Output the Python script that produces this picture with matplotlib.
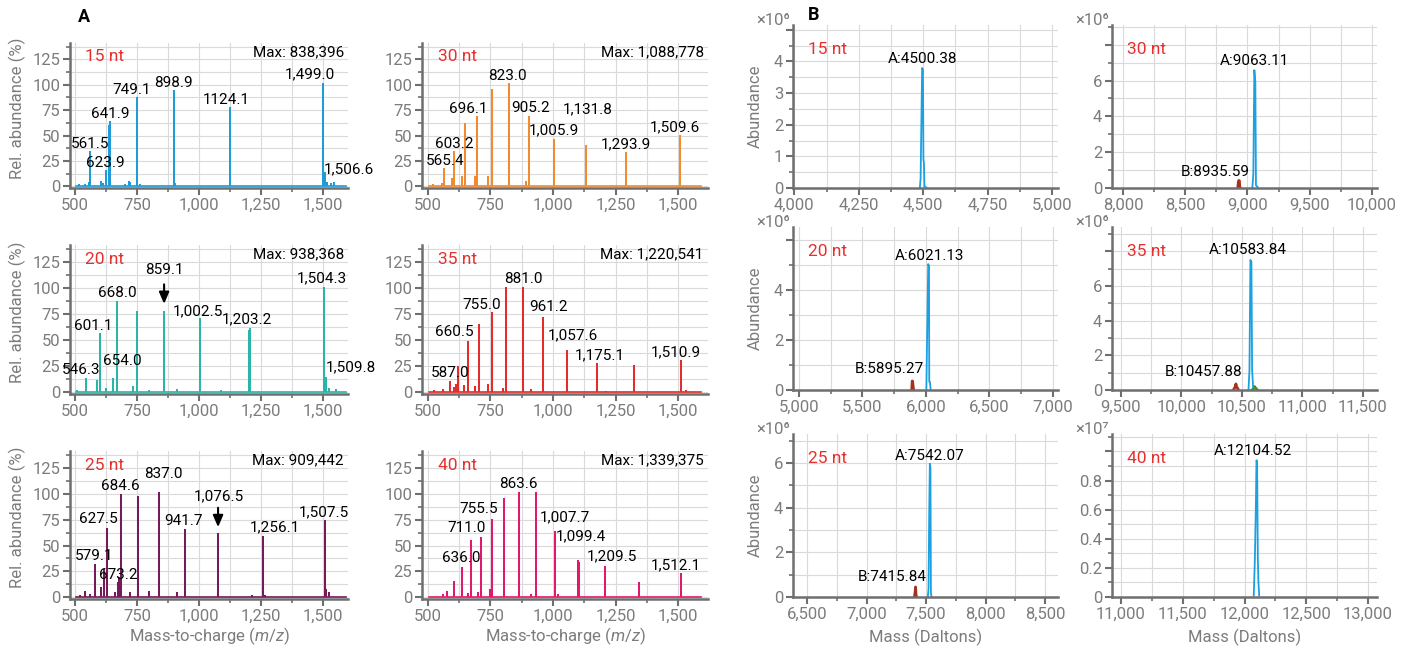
import matplotlib.pyplot as plt
from matplotlib.ticker import MultipleLocator, FuncFormatter

plt.rcParams['font.family'] = ['Roboto', 'DejaVu Sans']
plt.rcParams['mathtext.fontset'] = 'custom'
plt.rcParams['mathtext.rm'] = 'Roboto'
plt.rcParams['mathtext.it'] = 'Roboto:italic'

# ---- panel A: m/z spectra (relative abundance, %) ----
mz_15 = [518, 540, 555, 561.5, 605, 612, 623.9, 638, 641.9, 700, 716, 722, 749.1, 760,
         898.9, 905, 1124.1, 1499.0, 1506.6, 1515, 1530, 1545]
rel_15 = [2, 2, 4, 35, 5, 3, 16, 60, 64, 2, 5, 4, 88, 2, 95, 3, 78, 102, 14, 4, 3, 4]
labels_15 = [("561.5", 560, 38), ("623.9", 621, 19), ("641.9", 641, 67), ("749.1", 728, 91),
             ("898.9", 896, 98), ("1124.1", 1108, 81), ("1,499.0", 1446, 106)]
side_labels_15 = [("1,506.6", 1503, 13)]

mz_30 = [520, 555, 565.4, 597, 603.2, 636, 646.4, 650, 688, 696.1, 740, 754.3, 823.0, 890,
         905.2, 1005.9, 1131.8, 1293.9, 1509.6]
rel_30 = [2, 3, 18, 8, 35, 10, 61, 62, 10, 69, 10, 96, 102, 5, 69, 47, 41, 34, 51]
labels_30 = [("565.4", 567, 21), ("603.2", 604, 38), ("696.1", 660, 72), ("823.0", 817, 105),
             ("905.2", 911, 73), ("1,005.9", 1004, 51), ("1,131.8", 1137, 72),
             ("1,293.9", 1293, 38), ("1,509.6", 1487, 54)]

mz_20 = [510, 546.3, 590, 601.1, 625, 654.0, 668.0, 735, 751.6, 800, 859.1, 910, 1002.5,
         1090, 1200.5, 1203.2, 1504.3, 1509.8, 1525, 1550]
rel_20 = [2, 14, 12, 57, 4, 14, 87, 6, 78, 2, 78, 3, 71, 2, 60, 62, 101, 15, 4, 3]
labels_20 = [("546.3", 523, 17.6), ("601.1", 574, 60), ("654.0", 690, 26), ("668.0", 670, 91),
             ("859.1", 860, 113), ("1,002.5", 995, 74), ("1,203.2", 1192, 66),
             ("1,504.3", 1494, 105)]
side_labels_20 = [("1,509.8", 1511, 20)]
arrow_20 = (859.1, 106, 82)

mz_35 = [525, 560, 587.0, 605, 612, 621.6, 645, 660.5, 690, 704.6, 740, 755.0, 800, 813.1,
         881.0, 912, 961.2, 1057.6, 1175.1, 1212, 1322.0, 1510.9, 1530]
rel_35 = [2, 3, 11, 5, 8, 25, 7, 49, 6, 65, 8, 77, 4, 101, 101, 3, 72, 41, 28, 1.5, 26, 31, 2]
labels_35 = [("587.0", 589, 15), ("660.5", 607, 53.5), ("755.0", 716, 80), ("881.0", 880, 105),
             ("961.2", 983, 78), ("1,057.6", 1080, 51), ("1,175.1", 1189, 32),
             ("1,510.9", 1493, 35)]

mz_25 = [520, 540, 560, 579.1, 605, 617, 627.5, 660, 673.2, 678, 684.6, 720, 753.2, 800,
         837.0, 910, 941.7, 1076.5, 1215, 1256.1, 1265, 1507.5, 1512, 1522]
rel_25 = [2, 6, 3, 32.5, 10, 27, 67, 5, 14.5, 20, 100, 5, 98, 6, 102, 5, 66, 62, 2, 59.5, 2,
          75, 8, 5]
labels_25 = [("579.1", 578, 36), ("627.5", 596, 72), ("673.2", 674, 18), ("684.6", 683, 103),
             ("837.0", 855, 115), ("941.7", 939, 70), ("1,076.5", 1080, 94),
             ("1,256.1", 1306, 64), ("1,507.5", 1504, 78)]
arrow_25 = (1076.5, 89, 65)

mz_40 = [560, 575.4, 604.2, 636.0, 660, 671.5, 700, 711.0, 750, 755.5, 806.0, 863.6, 910,
         930.1, 1007.7, 1020, 1099.4, 1103, 1209.5, 1343.9, 1512.1]
rel_40 = [3, 6.5, 15.5, 29, 4, 55, 5, 58, 8, 76, 96, 101.5, 3, 101.5, 64, 3, 36, 34, 30.5, 15,
          23.5]
labels_40 = [("636.0", 633, 34), ("711.0", 656, 63), ("755.5", 703, 81), ("863.6", 863, 105.5),
             ("1,007.7", 1047, 73), ("1,099.4", 1113, 55), ("1,209.5", 1236, 36),
             ("1,512.1", 1491, 27)]

baseline_mz = [505, 1592]
baseline_rel = [0.8, 0.8]

# ---- panel B: deconvoluted masses (abundance) ----
massA_15 = [4487, 4490, 4496, 4499, 4501, 4503, 4505, 4512]
abA_15 = [0, 0.3, 3.79, 3.74, 0.9, 0.78, 0.05, 0.02]

massA_30 = [9039, 9047, 9055, 9063, 9068, 9082]
abA_30 = [0, 0.8, 6.58, 5.9, 0.15, 0.05]
massB_30 = [8922, 8927, 8930, 8935, 8938, 8942]
abB_30 = [0, 0.35, 0.42, 0.4, 0.05, 0]

massA_20 = [6003, 6013, 6018, 6024, 6026, 6031, 6037]
abA_20 = [0, 3.4, 5.02, 4.95, 0.33, 0.33, 0.02]
massB_20 = [5888, 5892, 5895, 5899, 5903]
abB_20 = [0, 0.36, 0.35, 0.15, 0]

massA_35 = [10554, 10562, 10570, 10578, 10584, 10592]
abA_35 = [0, 1.15, 7.5, 7.4, 1.15, 0.2]
massB_35 = [10433, 10445, 10450, 10455, 10468]
abB_35 = [0.05, 0.2, 0.35, 0.2, 0.05]
massC_35 = [10587, 10598, 10604, 10612, 10625]
abC_35 = [0.02, 0.12, 0.2, 0.12, 0.02]

massA_25 = [7515, 7521, 7527, 7532, 7537, 7541, 7546]
abA_25 = [0, 0.37, 3.9, 5.97, 5.82, 0.15, 0.03]
massB_25 = [7402, 7408, 7412, 7416, 7420]
abB_25 = [0, 0.2, 0.45, 0.1, 0]

massA_40 = [12075, 12084, 12092, 12097, 12102, 12108, 12113, 12119]
abA_40 = [0.01, 0.26, 0.62, 0.94, 0.93, 0.26, 0.1, 0.01]

# ---- styling ----
SPINE = '#6f6f6f'
TICKC = '#7c7c7c'
GRID = '#dadada'
NT_RED = '#e5302e'
B_BLUE = '#1ba1e2'
B_RED = '#a3321f'
B_GREEN = '#3d8b3d'

FIG_W, FIG_H = 1415, 650
fig = plt.figure(figsize=(FIG_W / 100, FIG_H / 100), dpi=100)


def px_axes(left, right, top, bottom):
    return fig.add_axes([left / FIG_W, 1 - bottom / FIG_H,
                         (right - left) / FIG_W, (bottom - top) / FIG_H])


def style(ax, xmaj, xmin, ymaj, ymin, ylab_max=None):
    for s in ['top', 'right']:
        ax.spines[s].set_visible(False)
    for s in ['left', 'bottom']:
        ax.spines[s].set_color(SPINE)
        ax.spines[s].set_linewidth(1.8)
    ax.xaxis.set_major_locator(MultipleLocator(xmaj))
    ax.xaxis.set_minor_locator(MultipleLocator(xmin))
    ax.yaxis.set_major_locator(MultipleLocator(ymaj))
    ax.yaxis.set_minor_locator(MultipleLocator(ymin))
    ax.xaxis.set_major_formatter(FuncFormatter(lambda v, p: f"{v:,.0f}"))
    if ylab_max is None:
        ax.yaxis.set_major_formatter(FuncFormatter(lambda v, p: f"{v:g}"))
    else:
        ax.yaxis.set_major_formatter(
            FuncFormatter(lambda v, p: '' if v > ylab_max + 1e-9 else f"{round(v, 3):g}"))
    ax.grid(True, which='both', color=GRID, lw=0.8)
    ax.set_axisbelow(True)
    ax.tick_params(which='major', length=5, width=1.5, color=SPINE, labelcolor=TICKC,
                   labelsize=12, pad=2)
    ax.tick_params(which='minor', length=3, width=1.2, color=SPINE)


# ---- panel A ----
a_cols = [(70, 348), (422, 708)]
a_rows = [(43, 188), (245, 394), (451, 599)]
a_panels = [
    (0, 0, '15 nt', 'Max: 838,396', mz_15, rel_15, '#1f9bd7', labels_15, side_labels_15, None, (480, 1600)),
    (0, 1, '30 nt', 'Max: 1,088,778', mz_30, rel_30, '#f28a30', labels_30, [], None, (476, 1620)),
    (1, 0, '20 nt', 'Max: 938,368', mz_20, rel_20, '#2bb5a8', labels_20, side_labels_20, arrow_20, (480, 1600)),
    (1, 1, '35 nt', 'Max: 1,220,541', mz_35, rel_35, '#e52b2b', labels_35, [], None, (476, 1620)),
    (2, 0, '25 nt', 'Max: 909,442', mz_25, rel_25, '#761a5c', labels_25, [], arrow_25, (480, 1600)),
    (2, 1, '40 nt', 'Max: 1,339,375', mz_40, rel_40, '#e3176e', labels_40, [], None, (476, 1620)),
]

for r, c, nt, mx, mz, rel, color, labels, side, arrow, xlim in a_panels:
    ax = px_axes(a_cols[c][0], a_cols[c][1], a_rows[r][0], a_rows[r][1])
    style(ax, 250, 125, 25, 12.5)
    ax.plot(baseline_mz, baseline_rel, color=color, lw=1.2)
    ax.vlines(mz, 0, rel, color=color, lw=1.45)
    ax.set_xlim(*xlim)
    ax.set_ylim(-1.5, 141)
    for t, x, y in labels:
        ax.text(x, y, t, ha='center', va='baseline', fontsize=11, color='black')
    for t, x, y in side:
        ax.text(x, y, t, ha='left', va='baseline', fontsize=11, color='black')
    if arrow is not None:
        ax.annotate('', xy=(arrow[0], arrow[2]), xytext=(arrow[0], arrow[1]),
                    arrowprops=dict(arrowstyle='-|>,head_width=0.3,head_length=0.7',
                                    color='black', lw=1.5))
    ax.text(0.055, 0.905, nt, transform=ax.transAxes, ha='left', va='center',
            fontsize=12.5, color=NT_RED)
    ax.text(0.985, 0.935, mx, transform=ax.transAxes, ha='right', va='center',
            fontsize=11, color='black')
    if c == 0:
        ax.text(-0.19, 0.55, 'Rel. abundance (%)', transform=ax.transAxes, rotation=90,
                ha='center', va='center', fontsize=12, color=TICKC)
    if r == 2:
        ax.text(0.5, -0.25, r'Mass-to-charge ($\mathit{m/z}$)', transform=ax.transAxes,
                ha='center', va='center', fontsize=12, color=TICKC)

# ---- panel B ----
b_cols = [(793, 1058), (1112, 1377)]
b_rows = [(25, 188), (227, 390), (434, 597)]
b_panels = [
    (0, 0, '15 nt', '×10⁶', (3995, 5023), 250, 125, (0, 5.15), 1, 0.5, 4,
     [(massA_15, abA_15, B_BLUE)], [("A:4500.38", 4499, 3.95)]),
    (0, 1, '30 nt', '×10⁶', (7912, 10040), 500, 250, (0, 9.1), 2, 1, 6,
     [(massB_30, abB_30, B_RED), (massA_30, abA_30, B_BLUE)],
     [("A:9063.11", 9055, 6.86), ("B:8935.59", 8738, 0.69)]),
    (1, 0, '20 nt', '×10⁶', (4953, 7040), 500, 250, (0, 6.5), 2, 1, 4,
     [(massB_20, abB_20, B_RED), (massA_20, abA_20, B_BLUE)],
     [("A:6021.13", 6024, 5.2), ("B:5895.27", 5714, 0.66)]),
    (1, 1, '35 nt', '×10⁶', (9426, 11616), 500, 250, (0, 9.4), 2, 1, 6,
     [(massB_35, abB_35, B_RED), (massC_35, abC_35, B_GREEN), (massA_35, abA_35, B_BLUE)],
     [("A:10583.84", 10551, 7.83), ("B:10457.88", 10185, 0.81)]),
    (2, 0, '25 nt', '×10⁶', (6382, 8609), 500, 250, (0, 7.3), 2, 1, 6,
     [(massB_25, abB_25, B_RED), (massA_25, abA_25, B_BLUE)],
     [("A:7542.07", 7532, 6.15), ("B:7415.84", 7218, 0.7)]),
    (2, 1, '40 nt', '×10⁷', (10927, 13073), 500, 250, (0, 1.12), 0.2, 0.1, 0.8,
     [(massA_40, abA_40, B_BLUE)], [("A:12104.52", 12070, 0.975)]),
]

for r, c, nt, mult, xlim, xmaj, xmin, ylim, ymaj, ymin, ylab_max, traces, labels in b_panels:
    ax = px_axes(b_cols[c][0], b_cols[c][1], b_rows[r][0], b_rows[r][1])
    style(ax, xmaj, xmin, ymaj, ymin, ylab_max)
    for m, a, col in traces:
        ax.plot(m, a, color=col, lw=1.3 if col == B_BLUE else 2.0)
    ax.set_xlim(*xlim)
    ax.set_ylim(*ylim)
    for t, x, y in labels:
        ax.text(x, y, t, ha='center', va='baseline', fontsize=11, color='black')
    ax.text(0.057, 0.85, nt, transform=ax.transAxes, ha='left', va='center',
            fontsize=12.5, color=NT_RED)
    ax.text(-0.01, 1.03, mult, transform=ax.transAxes, ha='right', va='center',
            fontsize=12, color=TICKC)
    if c == 0:
        ax.text(-0.143, 0.5, 'Abundance', transform=ax.transAxes, rotation=90,
                ha='center', va='center', fontsize=12, color=TICKC)
    if r == 2:
        ax.text(0.5, -0.245, 'Mass (Daltons)', transform=ax.transAxes,
                ha='center', va='center', fontsize=12, color=TICKC)

fig.text(84 / FIG_W, 1 - 17.5 / FIG_H, 'A', ha='center', va='center', fontsize=13,
         fontweight='bold')
fig.text(814 / FIG_W, 1 - 15 / FIG_H, 'B', ha='center', va='center', fontsize=13,
         fontweight='bold')

fig.savefig('out.png', dpi=100)
